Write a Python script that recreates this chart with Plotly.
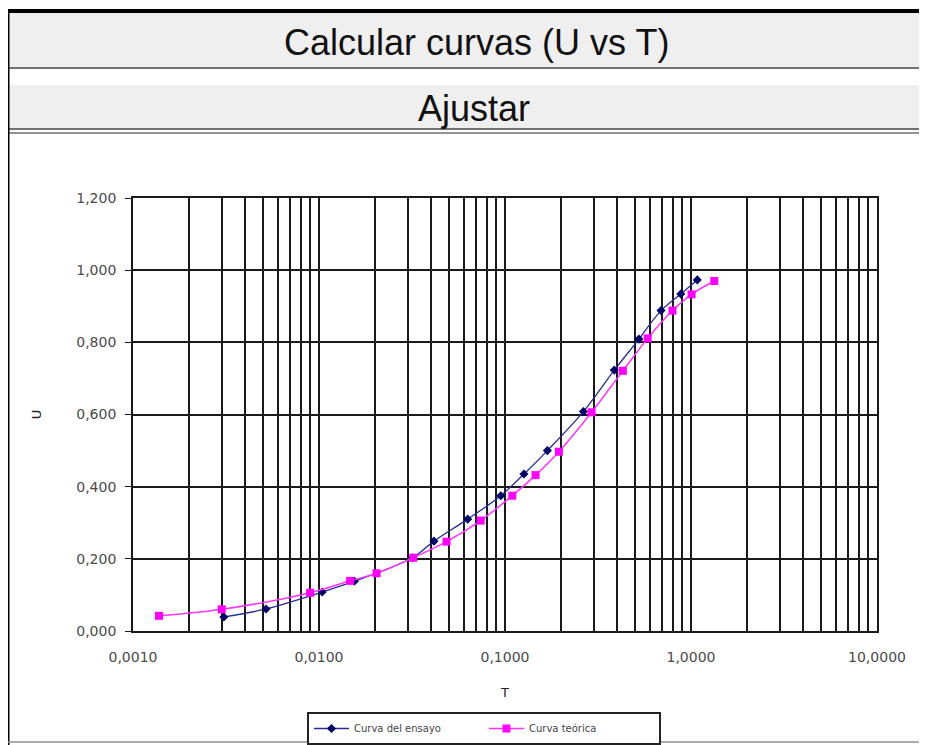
import plotly.graph_objects as go

# Curva del ensayo
t_ensayo = [0.00308, 0.00519, 0.0104, 0.0155, 0.0318, 0.0415, 0.063, 0.0949, 0.1265,
            0.169, 0.264, 0.387, 0.525, 0.690, 0.881, 1.081]
u_ensayo = [0.039, 0.061, 0.108, 0.138, 0.203, 0.249, 0.310, 0.375, 0.435,
            0.500, 0.608, 0.723, 0.809, 0.888, 0.934, 0.973]

# Curva teorica
t_teorica = [0.00138, 0.0030, 0.00896, 0.0147, 0.0204, 0.0321, 0.0485, 0.074, 0.1094,
             0.146, 0.195, 0.292, 0.430, 0.585, 0.795, 1.007, 1.334]
u_teorica = [0.042, 0.060, 0.106, 0.139, 0.160, 0.203, 0.2475, 0.306, 0.375,
             0.432, 0.497, 0.606, 0.721, 0.811, 0.888, 0.933, 0.970]

x_ticks = [0.001, 0.01, 0.1, 1, 10]
x_labels = ["0,0010", "0,0100", "0,1000", "1,0000", "10,0000"]

# la pagina tiene 8px de margen, asi que todo va desplazado
O = 8
W, H = 927 - O, 745 - O
L, R, T, B = 133 - O, 877 - O, 198 - O, 631 - O

def px(x):
    return (x - O - L) / (R - L)

def py(y):
    return (B - (y - O)) / (B - T)

# lineas de la rejilla: todas las de 1..9 por decada
grid_vals = []
grid_text = []
for i, d in enumerate(x_ticks[:-1]):
    for k in range(1, 10):
        grid_vals.append(d * k)
        grid_text.append(x_labels[i] if k == 1 else "")
grid_vals.append(10)
grid_text.append(x_labels[-1])

fig = go.Figure()
fig.add_trace(go.Scatter(x=t_ensayo, y=u_ensayo, name="Curva del ensayo",
                         mode="lines+markers", line=dict(color="#2a2a96", width=1.3, shape="spline"),
                         marker=dict(symbol="diamond", size=7, color="#000066")))
fig.add_trace(go.Scatter(x=t_teorica, y=u_teorica, name="Curva teórica",
                         mode="lines+markers", line=dict(color="#ff33ff", width=1.5, shape="spline"),
                         marker=dict(symbol="square", size=8, color="#ff00ff")))

shapes = [
    dict(type="rect", x0=px(8), x1=px(930), y0=py(13), y1=py(67), fillcolor="#efefef", line_width=0),
    dict(type="rect", x0=px(8), x1=px(930), y0=py(85), y1=py(128), fillcolor="#efefef", line_width=0),
    dict(type="line", x0=px(8), x1=px(930), y0=py(11), y1=py(11), line=dict(color="black", width=4)),
    dict(type="line", x0=px(8), x1=px(930), y0=py(68), y1=py(68), line=dict(color="#707070", width=2)),
    dict(type="line", x0=px(8), x1=px(930), y0=py(129), y1=py(129), line=dict(color="#707070", width=2)),
    dict(type="line", x0=px(8), x1=px(930), y0=py(133), y1=py(133), line=dict(color="#707070", width=1.5)),
    dict(type="line", x0=px(8.5), x1=px(8.5), y0=py(11), y1=py(745), line=dict(color="black", width=2)),
    dict(type="line", x0=px(8), x1=px(930), y0=py(742), y1=py(742), line=dict(color="#909090", width=1.5)),
]
for s in shapes:
    s["xref"] = "paper"
    s["yref"] = "paper"

fig.update_layout(
    width=W, height=H,
    margin=dict(l=L, r=W - R, t=T, b=H - B, autoexpand=False),
    paper_bgcolor="white", plot_bgcolor="white",
    separators=",.",
    font=dict(family="DejaVu Sans", color="#4a4a4a", size=14),
    shapes=shapes,
    annotations=[
        dict(text="Calcular curvas (U vs T)", x=px(476), y=py(42), xref="paper", yref="paper",
             xanchor="center", yanchor="middle",
             showarrow=False, font=dict(family="Liberation Sans", size=36, color="#111")),
        dict(text="Ajustar", x=px(474), y=py(108), xref="paper", yref="paper",
             xanchor="center", yanchor="middle",
             showarrow=False, font=dict(family="Liberation Sans", size=36, color="#111")),
    ],
    xaxis=dict(type="log", range=[-3, 1], tickvals=grid_vals, ticktext=grid_text,
               showgrid=True, gridcolor="#1a1a1a", gridwidth=1.7,
               showline=True, linecolor="#1a1a1a", linewidth=1.7, mirror=True,
               ticks="", ticklabelstandoff=12,
               title=dict(text="T", font=dict(size=13, color="#222"), standoff=24)),
    yaxis=dict(range=[0, 1.2], dtick=0.2, tickformat=".3f",
               showgrid=True, gridcolor="#1a1a1a", gridwidth=1.7, zeroline=False,
               showline=True, linecolor="#1a1a1a", linewidth=1.7, mirror=True,
               ticks="outside", ticklen=6, tickcolor="#1a1a1a", ticklabelstandoff=6,
               title=dict(text="U", font=dict(size=13, color="#222"), standoff=32)),
    legend=dict(orientation="h", x=px(484), xanchor="center", y=py(712), yanchor="top",
                bordercolor="#222", borderwidth=2, font=dict(size=10, color="#444"),
                itemwidth=35, entrywidth=125, tracegroupgap=0),
)

fig.write_html("out.html")
